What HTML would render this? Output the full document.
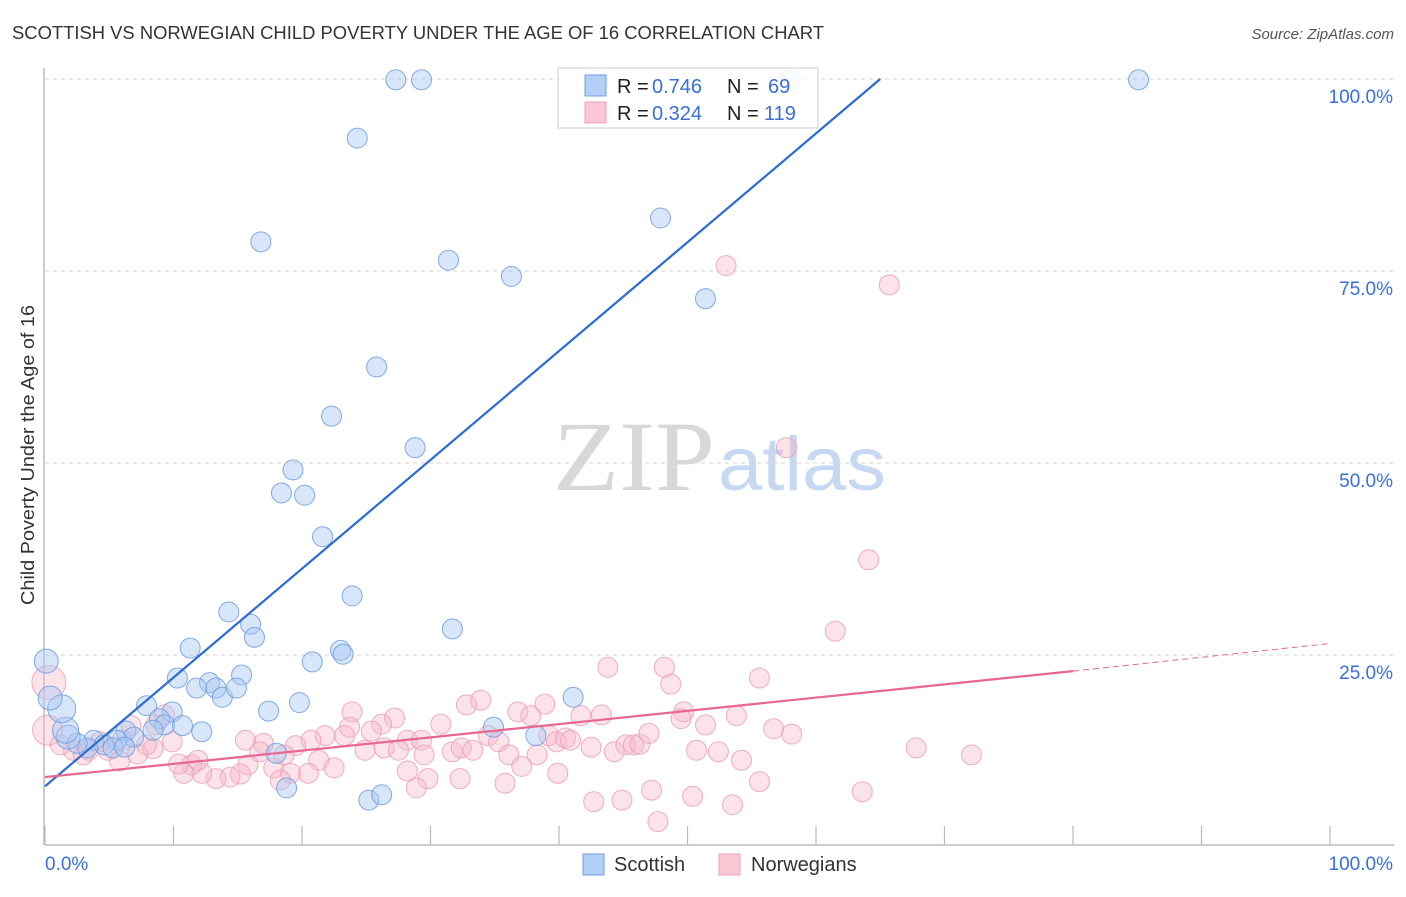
<!DOCTYPE html>
<html><head><meta charset="utf-8"><style>
body{margin:0;background:#fff;font-family:"Liberation Sans",sans-serif;}
svg text{font-family:"Liberation Sans",sans-serif;}
</style></head><body>
<svg id="chart" width="1406" height="892" xmlns="http://www.w3.org/2000/svg">
<text x="12" y="39" font-size="18" fill="#333" textLength="812" lengthAdjust="spacingAndGlyphs">SCOTTISH VS NORWEGIAN CHILD POVERTY UNDER THE AGE OF 16 CORRELATION CHART</text>
<text x="1394" y="39" font-size="15" fill="#555" font-style="italic" text-anchor="end">Source: ZipAtlas.com</text>
<text transform="translate(34,455) rotate(-90)" font-size="18" fill="#333" text-anchor="middle" textLength="300" lengthAdjust="spacingAndGlyphs">Child Poverty Under the Age of 16</text>
<g>
<text x="553" y="490" font-size="100" fill="#d8d8d8" textLength="162" lengthAdjust="spacingAndGlyphs" style="font-family:'Liberation Serif',serif">ZIP</text>
<text x="718" y="490" font-size="76" fill="#c7d9f2" textLength="168" lengthAdjust="spacingAndGlyphs">atlas</text>
</g>
<g id="grid"></g><g id="axes"></g><g id="pink"></g><g id="blue"></g><g id="lines"></g>
<g>
<rect x="558" y="68" width="260" height="60" fill="#fff" fill-opacity="0.88" stroke="#ccc"/>
<rect x="585" y="75" width="21" height="21" fill="#b3cff5" stroke="#6f9fe0"/>
<rect x="585" y="102" width="21" height="21" fill="#f9c6d4" stroke="#eea0b8"/>
<text x="617" y="93" font-size="20" fill="#222">R = <tspan x="652" fill="#3a6fd8">0.746</tspan><tspan x="727">N = </tspan><tspan x="768" fill="#3a6fd8">69</tspan></text>
<text x="617" y="120" font-size="20" fill="#222">R = <tspan x="652" fill="#3a6fd8">0.324</tspan><tspan x="727">N = </tspan><tspan x="764" fill="#3a6fd8">119</tspan></text>
</g>
<g>
<rect x="583" y="854" width="21" height="21" fill="#b3cff5" stroke="#6f9fe0"/>
<text x="614" y="871" font-size="20" fill="#333">Scottish</text>
<rect x="719" y="854" width="21" height="21" fill="#f9c6d4" stroke="#eea0b8"/>
<text x="751" y="871" font-size="20" fill="#333">Norwegians</text>
</g>
</svg>
<script>
const blueX=[27.3,29.3,43.0,58.0,85.1,24.3,16.8,47.9,31.4,36.3,51.4,25.8,22.3,28.8,19.3,18.4,20.2,21.6,23.9,31.7,14.3,16.0,16.3,23.0,23.2,20.8,11.3,10.3,15.3,12.8,11.8,13.3,13.8,14.9,19.8,17.4,41.1,7.9,9.9,8.9,9.3,12.2,10.7,8.4,6.3,6.9,34.9,38.2,5.6,3.8,4.6,3.3,2.5,1.8,1.6,1.3,0.4,0.1,5.3,18.0,18.8,25.2,26.2,6.2];
const blueY=[99.9,99.9,99.9,99.9,99.9,92.3,78.8,81.9,76.4,74.3,71.4,62.5,56.1,52.0,49.1,46.1,45.8,40.4,32.7,28.4,30.6,29.0,27.3,25.6,25.1,24.1,25.9,22.0,22.4,21.4,20.7,20.7,19.5,20.7,18.8,17.7,19.5,18.4,17.6,16.7,15.9,15.0,15.8,15.2,15.1,14.3,15.6,14.5,13.9,13.9,13.3,12.9,13.5,14.3,15.2,18.0,19.4,24.2,12.9,12.2,7.7,6.1,6.8,13.0];
const blueR=[10,10,10,10,10,10,10,10,10,10,10,10,10,10,10,10,10,10,10,10,10,10,10,10,10,10,10,10,10,10,10,10,10,10,10,10,10,10,10,10,10,10,10,10,10,10,10,10,10,10,10,10,10,12,13,14,12,12,10,10,10,10,10,10];
const pinkX=[53.0,65.7,57.7,64.1,61.5,0.3,0.2,43.8,48.2,48.7,55.6,33.9,32.8,38.9,36.8,37.8,41.7,43.3,49.7,49.5,51.4,53.8,23.9,27.2,26.2,9.3,6.7,8.6,6.0,4.9,2.2,1.2,3.0,5.8,8.4,9.9,23.7,21.8,23.3,25.4,20.7,19.5,17.0,15.6,16.7,17.8,18.6,21.3,22.5,20.5,19.1,28.2,29.3,30.8,26.4,24.9,27.5,29.5,31.7,32.4,33.3,34.5,35.3,36.1,37.1,38.3,39.2,39.8,40.5,40.9,42.5,44.3,45.2,45.8,46.3,47.0,50.7,52.4,54.2,56.7,58.1,67.8,72.1,55.6,53.5,50.4,47.2,44.9,42.7,47.7,63.6,39.9,35.8,32.3,29.8,28.9,28.2,15.8,15.2,14.4,13.3,12.2,11.4,10.8,11.9,10.4,7.2,7.9,4.3,3.4,18.3];
const pinkY=[75.7,73.2,52.0,37.4,28.1,21.4,15.2,23.4,23.4,21.2,22.0,19.1,18.5,18.6,17.6,17.1,17.1,17.2,17.6,16.7,15.9,17.1,17.6,16.8,16.0,17.2,15.8,15.9,13.9,12.6,12.6,13.3,12.0,11.2,12.8,13.7,15.6,14.5,14.5,15.1,13.9,13.2,13.5,13.9,12.4,10.3,12.0,11.3,10.3,9.6,9.6,13.9,13.9,16.0,12.9,12.6,12.6,12.0,12.4,12.9,12.6,14.5,13.7,12.0,10.5,12.0,14.5,13.7,14.2,13.9,13.0,12.4,13.3,13.3,13.4,14.8,12.6,12.4,11.3,15.4,14.7,12.9,12.0,8.5,5.5,6.6,7.4,6.1,5.9,3.3,7.2,9.6,8.3,8.9,8.9,7.7,9.9,10.7,9.5,9.1,8.9,9.6,10.7,9.6,11.3,10.8,12.1,13.3,13.7,12.6,8.7];
const pinkBig={5:17,6:15};
const blueTrend=[0,7.9,65.0,100];
const pinkTrend=[0,9.1,80,22.9,100,26.5];
const yTicks=[25,50,75,100];
const yTickLabels=["25.0%","50.0%","75.0%","100.0%"];
const xTicks=[0,10,20,30,40,50,60,70,80,90,100];

const sx=v=>45+v*12.85, sy=v=>847-v*7.68;
const NS="http://www.w3.org/2000/svg";
function mk(tag,attrs,parent){const e=document.createElementNS(NS,tag);for(const k in attrs)e.setAttribute(k,attrs[k]);parent.appendChild(e);return e;}
const grid=document.getElementById('grid'),axes=document.getElementById('axes');
yTicks.forEach((t,i)=>{
 const l=mk('line',{x1:45,x2:1394,y1:sy(t),y2:sy(t),stroke:'#d5d5d5','stroke-dasharray':'4,4'},grid);
 
 
 const tx=mk('text',{x:1393,y:sy(t)+24,'font-size':19,fill:'#3a6fd8','text-anchor':'end'},axes);
 tx.textContent=yTickLabels[i];
 
 
});
const ax=mk('line',{x1:45,x2:1394,y1:845,y2:845,stroke:'#bbb','stroke-width':1.5},axes);


const ay=mk('line',{x1:44,x2:44,y1:68,y2:845,stroke:'#bbb','stroke-width':1.5},axes);


xTicks.forEach(t=>{const l=mk('line',{x1:sx(t),x2:sx(t),y1:826,y2:845,stroke:'#bbb','stroke-width':1.2},axes);
 
 });
let t0=mk('text',{x:45,y:870,'font-size':19,fill:'#3a6fd8'},axes);t0.textContent='0.0%';


let t1=mk('text',{x:1393,y:870,'font-size':19,fill:'#3a6fd8','text-anchor':'end'},axes);t1.textContent='100.0%';



const pg=document.getElementById('pink');
pinkX.forEach((x,i)=>{const c=mk('circle',{cx:sx(x),cy:sy(pinkY[i]),r:pinkBig[i]||10,fill:'#f7b8cb','fill-opacity':0.4,stroke:'#eb9ab3','stroke-width':1,'stroke-opacity':0.8},pg);
 
 });
const bg=document.getElementById('blue');
blueX.forEach((x,i)=>{const c=mk('circle',{cx:sx(x),cy:sy(blueY[i]),r:blueR[i],fill:'#a9c8f2','fill-opacity':0.45,stroke:'#6d9ce0','stroke-width':1,'stroke-opacity':0.85},bg);
 
 });
const lg=document.getElementById('lines');
const bl=mk('line',{x1:sx(blueTrend[0]),y1:sy(blueTrend[1]),x2:sx(blueTrend[2]),y2:sy(blueTrend[3]),stroke:'#2a6bd6','stroke-width':2.2},lg);


const pl=mk('line',{x1:sx(pinkTrend[0]),y1:sy(pinkTrend[1]),x2:sx(pinkTrend[2]),y2:sy(pinkTrend[3]),stroke:'#e8668f','stroke-width':2.2},lg);


const pd=mk('line',{x1:sx(pinkTrend[2]),y1:sy(pinkTrend[3]),x2:sx(pinkTrend[4]),y2:sy(pinkTrend[5]),stroke:'#e8668f','stroke-width':1,'stroke-dasharray':'6,4'},lg);


</script>
</body></html>
